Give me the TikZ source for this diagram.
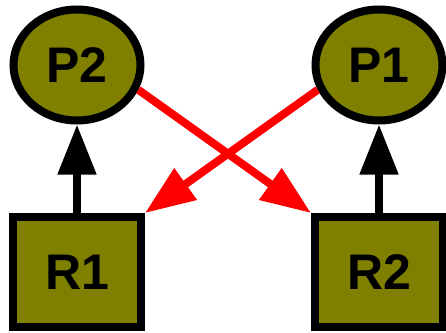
\documentclass[tikz,border=0pt]{standalone}
\usepackage{fontspec}
\setmainfont{Liberation Sans}
\usetikzlibrary{shapes.geometric,arrows.meta}
\definecolor{olivefill}{HTML}{808000}
\tikzset{
  proc/.style={ellipse,draw=black,fill=olivefill,line width=8pt,minimum width=127pt,minimum height=111pt,inner sep=0pt,font=\fontsize{50}{50}\selectfont\bfseries},
  res/.style={rectangle,draw=black,fill=olivefill,line width=8pt,minimum width=128pt,minimum height=110pt,inner sep=0pt,font=\fontsize{50}{50}\selectfont\bfseries},
  holds/.style={draw=black,line width=8pt,-{Triangle[length=50pt,width=37pt]}},
  wants/.style={draw=red,line width=8pt,-{Triangle[length=50pt,width=37pt]}}
}
\begin{document}
\begin{tikzpicture}[x=1pt,y=-1pt]
\useasboundingbox (0,0) rectangle (446,332);
\node[proc] (P2) at (77,65) {P2};
\node[proc] (P1) at (379,65) {P1};
\node[res] (R1) at (77,272) {R1};
\node[res] (R2) at (379,272) {R2};
\draw[holds] (R1.north) -- (P2.south);
\draw[holds] (R2.north) -- (P1.south);
\draw[wants] (P2.-22) -- (R2.north west);
\draw[wants] (P1.202) -- (R1.north east);
\end{tikzpicture}
\end{document}
